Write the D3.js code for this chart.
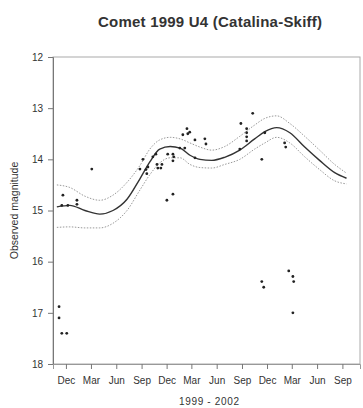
<!DOCTYPE html>
<html>
<head>
<meta charset="utf-8">
<script src="https://cdn.jsdelivr.net/npm/d3@7"></script>
<style>
  html, body { margin: 0; padding: 0; background: #fff; }
  svg text { font-family: "Liberation Sans", Arial, sans-serif; fill: #333; }
</style>
</head>
<body>
<svg id="chart" width="363" height="408"></svg>
<script>
// Light curve of comet C/1999 U4 (Catalina-Skiff): observed magnitudes,
// fitted light curve and its confidence band.

const titleText = "Comet 1999 U4 (Catalina-Skiff)";
const yLabel = "Observed magnitude";
const xLabel = "1999 - 2002";

// Visual magnitude estimates (date, magnitude)
const obsDates = [
  "1999-11-06", "1999-11-06", "1999-11-16", "1999-11-20", "1999-12-04", "1999-11-16",
  "1999-12-08", "2000-01-10", "2000-01-10", "2000-03-04",
  "2000-08-26", "2000-09-06", "2000-09-17", "2000-09-20", "2000-09-24",
  "2000-10-12", "2000-10-23", "2000-10-27", "2000-10-30", "2000-11-10",
  "2000-11-14", "2000-12-02", "2000-12-05", "2000-12-24", "2000-12-24",
  "2000-12-24", "2000-12-27", "2001-01-18", "2001-01-29", "2001-02-05",
  "2001-02-13", "2001-02-16", "2001-02-23", "2001-03-14", "2001-03-14",
  "2001-04-19", "2001-04-23",
  "2001-08-24", "2001-08-28", "2001-09-18", "2001-09-18", "2001-09-18",
  "2001-09-18", "2001-10-10", "2001-11-12", "2001-11-12", "2001-11-19",
  "2001-11-23", "2002-02-03", "2002-02-07", "2002-02-18", "2002-03-05",
  "2002-03-05", "2002-03-08"
];
const obsMags = [
  16.88, 17.10, 17.40, 14.70, 17.40, 14.90,
  14.90, 14.80, 14.88, 14.19,
  14.19, 14.00, 14.20, 14.28, 14.15,
  13.95, 13.90, 14.10, 14.17, 14.17,
  14.10, 14.80, 13.90, 13.90, 14.03,
  14.68, 13.95, 13.78, 13.52, 13.78,
  13.40, 13.50, 13.47, 13.62, 13.97,
  13.60, 13.70,
  13.80, 13.30, 13.40, 13.48, 13.56,
  13.64, 13.10, 14.00, 16.39, 16.50,
  13.48, 13.68, 13.76, 16.18, 16.29,
  17.00, 16.39
];

// Fitted light curve with upper / lower confidence limits
const fitDates = [
  "1999-10-29", "1999-12-15", "2000-02-08", "2000-04-02", "2000-05-20",
  "2000-07-10", "2000-08-26", "2000-10-01", "2000-11-06", "2000-12-14",
  "2001-01-19", "2001-02-24", "2001-04-01", "2001-05-14", "2001-06-30",
  "2001-08-24", "2001-10-17", "2001-11-23", "2002-01-05", "2002-02-22",
  "2002-04-17", "2002-06-10", "2002-08-04", "2002-09-16"
];
const fitMags = [
  14.93, 14.90, 15.00, 15.07, 15.00,
  14.78, 14.38, 14.05, 13.80, 13.75,
  13.78, 13.92, 14.00, 14.02, 13.96,
  13.82, 13.60, 13.46, 13.38, 13.48,
  13.76, 14.02, 14.26, 14.37
];
const upperMags = [
  14.50, 14.55, 14.72, 14.80, 14.70,
  14.45, 14.12, 13.80, 13.62, 13.57,
  13.60, 13.68, 13.76, 13.82, 13.75,
  13.55, 13.33, 13.20, 13.15, 13.30,
  13.55, 13.82, 14.10, 14.27
];
const lowerMags = [
  15.33, 15.32, 15.34, 15.34, 15.25,
  15.00, 14.60, 14.30, 14.07, 13.97,
  13.97, 14.10, 14.16, 14.17, 14.10,
  14.00, 13.80, 13.68, 13.57, 13.68,
  13.95, 14.20, 14.42, 14.48
];

// Axis ticks
const xTickDates = [
  "1999-12-01", "2000-03-01", "2000-06-01", "2000-09-01",
  "2000-12-01", "2001-03-01", "2001-06-01", "2001-09-01",
  "2001-12-01", "2002-03-01", "2002-06-01", "2002-09-01"
];
const xTickLabels = ["Dec", "Mar", "Jun", "Sep", "Dec", "Mar", "Jun", "Sep", "Dec", "Mar", "Jun", "Sep"];
const yTicks = [12, 13, 14, 15, 16, 17, 18];
const xDomain = ["1999-10-15", "2002-11-04"];

const parse = d3.timeParse("%Y-%m-%d");
const svg = d3.select("#chart");

const plot = { left: 53, right: 360, top: 57, bottom: 364 };

const x = d3.scaleTime()
  .domain(xDomain.map(parse))
  .range([plot.left, plot.right]);
const y = d3.scaleLinear()
  .domain([12, 18])
  .range([plot.top, plot.bottom]);

// Frame
svg.append("rect")
  .attr("x", plot.left).attr("y", plot.top)
  .attr("width", plot.right - plot.left).attr("height", plot.bottom - plot.top)
  .attr("fill", "none").attr("stroke", "#aaa").attr("stroke-width", 1);

// Y axis
const yAxis = d3.axisLeft(y).tickValues(yTicks).tickSize(5).tickPadding(5).tickFormat(d3.format("d"));
const gy = svg.append("g").attr("transform", `translate(${plot.left},0)`).call(yAxis);
gy.select(".domain").attr("stroke", "#777");
gy.selectAll(".tick line").attr("stroke", "#777");
gy.selectAll(".tick text").style("font-size", "10px").attr("fill", "#333");

// X axis
const xAxis = d3.axisBottom(x)
  .tickValues(xTickDates.map(parse))
  .tickSize(5).tickPadding(8)
  .tickFormat((d, i) => xTickLabels[i]);
const gx = svg.append("g").attr("transform", `translate(0,${plot.bottom})`).call(xAxis);
gx.select(".domain").attr("stroke", "#999");
gx.selectAll(".tick line").attr("stroke", "#777");
gx.selectAll(".tick text").style("font-size", "10px").attr("fill", "#333");

// Curves
const fitRows = fitDates.map((d, i) => ({
  date: parse(d), fit: fitMags[i], up: upperMags[i], lo: lowerMags[i]
}));
const lineFor = key => d3.line()
  .x(d => x(d.date)).y(d => y(d[key]))
  .curve(d3.curveMonotoneX);

svg.append("path").datum(fitRows).attr("d", lineFor("up"))
  .attr("fill", "none").attr("stroke", "#999").attr("stroke-width", 1)
  .attr("stroke-dasharray", "1.5,1.5");
svg.append("path").datum(fitRows).attr("d", lineFor("lo"))
  .attr("fill", "none").attr("stroke", "#999").attr("stroke-width", 1)
  .attr("stroke-dasharray", "1.5,1.5");
svg.append("path").datum(fitRows).attr("d", lineFor("fit"))
  .attr("fill", "none").attr("stroke", "#333").attr("stroke-width", 1.4);

// Observations
const obsRows = obsDates.map((d, i) => ({ date: parse(d), mag: obsMags[i] }));
svg.append("g").selectAll("circle").data(obsRows).join("circle")
  .attr("cx", d => x(d.date)).attr("cy", d => y(d.mag))
  .attr("r", 1.4).attr("fill", "#222");

// Titles
svg.append("text").attr("x", 210).attr("y", 27).attr("text-anchor", "middle")
  .attr("textLength", 224).attr("lengthAdjust", "spacing")
  .style("font-size", "15px").style("font-weight", "bold").text(titleText);
svg.append("text")
  .attr("transform", `translate(18,${(plot.top + plot.bottom) / 2}) rotate(-90)`)
  .attr("text-anchor", "middle").style("font-size", "10.5px").text(yLabel);
svg.append("text").attr("x", 209).attr("y", 405)
  .attr("text-anchor", "middle").style("font-size", "10px")
  .attr("textLength", 60).attr("lengthAdjust", "spacing").text(xLabel);
</script>
</body>
</html>
